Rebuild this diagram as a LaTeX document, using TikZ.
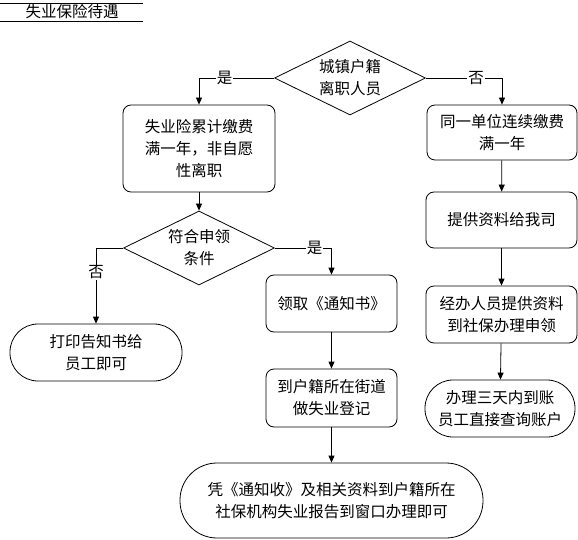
\documentclass[tikz,border=0pt]{standalone}
\usepackage{fontspec}
\usepackage{tikz}
\usetikzlibrary{shapes.geometric,arrows.meta}
\newfontfamily\cjk{Noto Sans CJK SC}

\begin{document}
\begin{tikzpicture}[x=1pt,y=-1pt,line width=0.8pt,
	font=\cjk\fontsize{15.5}{22}\selectfont,
	box/.style={draw,rectangle,rounded corners=8pt,align=center,inner sep=0pt},
	term/.style={draw,rectangle,align=center,inner sep=0pt},
	choice/.style={draw,diamond,shape aspect=2,align=center,inner sep=0pt,minimum width=151pt,minimum height=74pt},
	tag/.style={fill=white,inner sep=1pt},
	flow/.style={-{Triangle[length=7pt,width=6pt]}}]
	\useasboundingbox (0,0) rectangle (578,540);
	% title
	\node (title) at (72,12) {失业保险待遇};
	\draw (0,3) -- (143,3);
	\draw (0,21) -- (143,21);
	% top choice
	\node[choice] (city) at (350,78) {城镇户籍\\离职人员};
	\node[box,minimum width=152pt,minimum height=87pt] (paid) at (199,148.5) {失业险累计缴费\\满一年，非自愿\\性离职};
	\node[box,minimum width=150pt,minimum height=55pt] (same) at (502,132.5) {同一单位连续缴费\\满一年};
	\node[box,minimum width=151pt,minimum height=56pt] (give) at (501.5,220) {提供资料给我司};
	\node[box,minimum width=151pt,minimum height=57pt] (staff) at (501.5,314.5) {经办人员提供资料\\到社保办理申领};
	\node[term,rounded corners=28pt,minimum width=150pt,minimum height=57pt] (done) at (500,408.5) {办理三天内到账\\员工直接查询账户};
	% second choice
	\node[choice] (cond) at (199,248) {符合申领\\条件};
	\node[term,rounded corners=28pt,minimum width=172pt,minimum height=57pt] (print) at (96,352.5) {打印告知书给\\员工即可};
	\node[box,minimum width=131pt,minimum height=57pt] (notice) at (331.5,303.5) {领取《通知书》};
	\node[box,minimum width=131pt,minimum height=58pt] (street) at (331.5,398) {到户籍所在街道\\做失业登记};
	\node[term,rounded corners=37pt,minimum width=303pt,minimum height=75pt] (final) at (331.5,500.5) {凭《通知收》及相关资料到户籍所在\\社保机构失业报告到窗口办理即可};
	% connectors
	\draw[flow] (city.west) -| node[tag,pos=0.33] {是} (paid.north);
	\draw[flow] (city.east) -| node[tag,pos=0.33] {否} (same.north);
	\draw[flow] (paid) -- (cond);
	\draw[flow] (cond.west) -| node[tag,pos=0.66] {否} (print.north);
	\draw[flow] (cond.east) -| node[tag,pos=0.35] {是} (notice.north);
	\draw[flow] (notice) -- (street);
	\draw[flow] (street) -- (final);
	\draw[flow] (same) -- (give);
	\draw[flow] (give) -- (staff);
	\draw[flow] (staff) -- (done);
\end{tikzpicture}
\end{document}
